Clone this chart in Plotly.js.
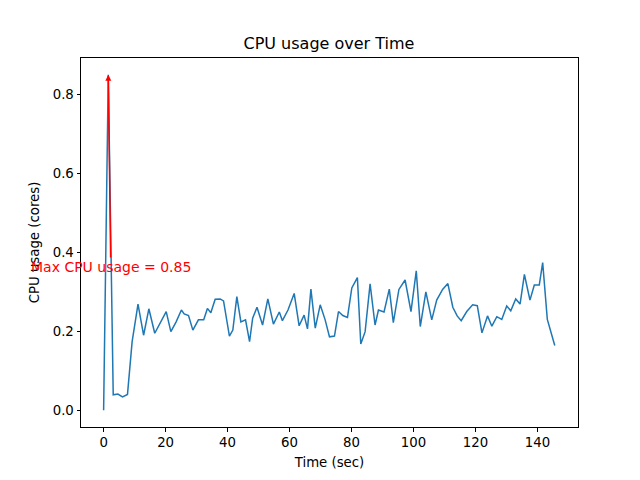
<!DOCTYPE html>
<html>
<head>
<meta charset="utf-8">
<script src="https://cdn.plot.ly/plotly-3.0.1.min.js"></script>
<style>html,body{margin:0;padding:0;background:#fff;}#chart{width:640px;height:480px;}</style>
</head>
<body>
<div id="chart"></div>
<script>
const timeSec = [0,1.5,3.1,4.6,6.1,7.7,9.2,11.1,12.9,14.6,16.5,18.4,20.2,21.7,23.4,25.1,26.0,27.4,28.8,30.6,32.3,33.5,34.6,36.0,37.6,38.7,40.6,41.7,43.0,44.3,45.8,47.1,48.1,49.5,51.3,53.0,54.8,56.7,57.7,59.5,61.5,63.1,64.7,65.8,66.9,68.3,69.9,71.5,72.9,74.5,75.8,77.2,78.7,80.1,81.9,83.0,84.4,86.0,87.6,88.7,90.5,92.2,93.5,95.3,97.3,99.2,100.9,102.2,104.0,105.9,107.5,109.4,111.1,112.7,114.1,115.4,117.2,119.1,120.6,122.1,123.9,125.3,126.9,128.5,130.1,131.4,133.0,134.4,135.8,137.6,139.0,140.6,141.7,143.2,145.6];
const cpuCores = [0,0.85,0.039,0.041,0.034,0.040,0.174,0.269,0.190,0.257,0.195,0.222,0.250,0.199,0.224,0.254,0.244,0.240,0.203,0.229,0.229,0.258,0.247,0.281,0.282,0.277,0.188,0.203,0.288,0.224,0.229,0.174,0.233,0.261,0.216,0.282,0.218,0.249,0.227,0.254,0.296,0.214,0.241,0.206,0.307,0.208,0.267,0.229,0.186,0.188,0.250,0.240,0.235,0.310,0.336,0.168,0.199,0.320,0.216,0.254,0.249,0.307,0.222,0.306,0.330,0.250,0.353,0.212,0.300,0.229,0.279,0.306,0.321,0.261,0.239,0.227,0.250,0.267,0.265,0.196,0.239,0.213,0.237,0.230,0.264,0.252,0.282,0.269,0.344,0.279,0.317,0.317,0.374,0.230,0.164];
const xTicks = [0,20,40,60,80,100,120,140];
const yTicks = [0.0,0.2,0.4,0.6,0.8];

let maxIdx = 0;
cpuCores.forEach((v,i)=>{ if (v > cpuCores[maxIdx]) maxIdx = i; });
const maxT = timeSec[maxIdx], maxV = cpuCores[maxIdx];

const font = {family: 'DejaVu Sans, sans-serif', size: 13.3, color: '#000'};
const axisBase = {
  showgrid: false, zeroline: false, showline: true, mirror: true,
  linecolor: '#000', linewidth: 1, ticks: 'outside', ticklen: 3.5,
  tickwidth: 1, tickcolor: '#000', tickfont: font
};
const layout = {
  width: 640, height: 480,
  margin: {l: 81, r: 62, t: 58, b: 53},
  paper_bgcolor: '#fff', plot_bgcolor: '#fff',
  font: font,
  showlegend: false,
  title: {text: 'CPU usage over Time', font: {family: 'DejaVu Sans, sans-serif', size: 16, color: '#000'}, x: 0.514, xanchor: 'center', y: 0.91, yanchor: 'middle'},
  xaxis: Object.assign({}, axisBase, {
    range: [-7.3, 153.1], tickvals: xTicks, ticktext: xTicks.map(String),
    title: {text: 'Time (sec)', font: font, standoff: 8}
  }),
  yaxis: Object.assign({}, axisBase, {
    range: [-0.0425, 0.8925], tickvals: yTicks, ticktext: yTicks.map(v=>v.toFixed(1)),
    title: {text: 'CPU usage (cores)', font: font, standoff: 10}
  }),
  annotations: [{
    x: maxT, y: maxV, xref: 'x', yref: 'y',
    ax: maxT + 0.8, ay: 0.363, axref: 'x', ayref: 'y',
    text: 'Max CPU usage = ' + maxV.toFixed(2),
    font: {family: 'DejaVu Sans, sans-serif', size: 14, color: 'red'},
    showarrow: true, arrowcolor: 'red', arrowwidth: 1.5, arrowhead: 2, arrowsize: 0.8,
    standoff: 0, startstandoff: 0
  }]
};
const data = [{
  x: timeSec, y: cpuCores, type: 'scatter', mode: 'lines',
  line: {color: '#1f77b4', width: 1.5}, hoverinfo: 'skip'
}];
Plotly.newPlot('chart', data, layout, {staticPlot: true});
</script>
</body>
</html>
